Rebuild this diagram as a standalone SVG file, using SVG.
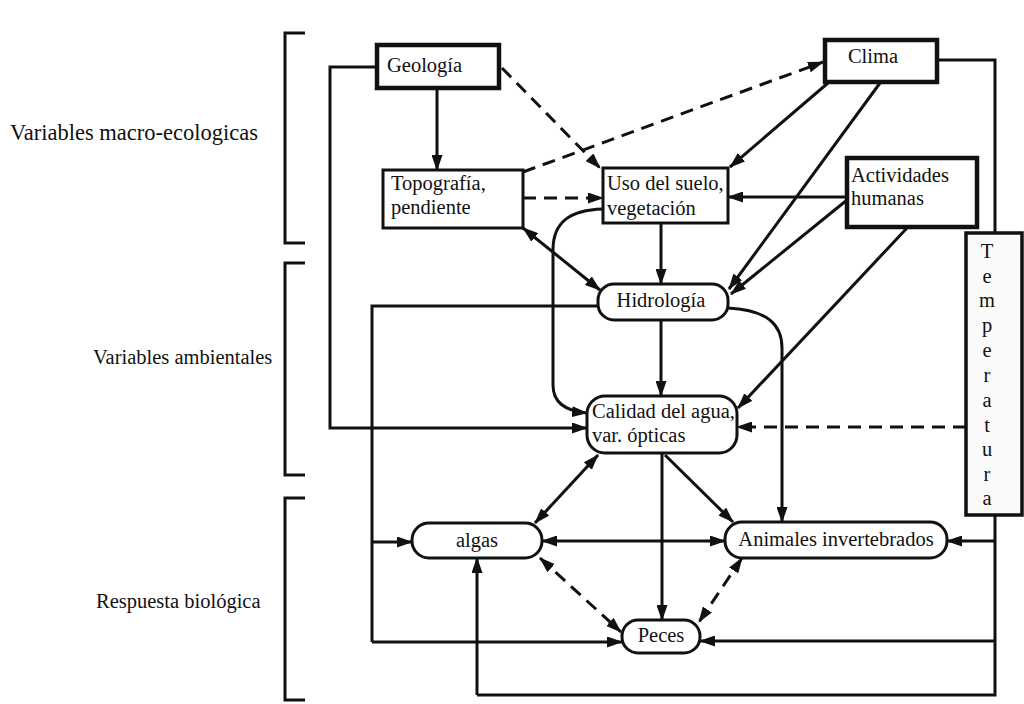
<svg xmlns="http://www.w3.org/2000/svg" width="1024" height="704" viewBox="0 0 1024 704">
<defs>
<marker id="arr" viewBox="0 0 16 11" refX="15" refY="5.5" markerWidth="16" markerHeight="11" markerUnits="userSpaceOnUse" orient="auto-start-reverse">
<path d="M0,0 L16,5.5 L0,11 z" fill="#111"/>
</marker>
</defs>
<style>
text{font-family:"Liberation Serif","Times New Roman",serif;fill:#111;font-size:20.5px}
.box{fill:#fff;stroke:#111;stroke-width:3}
.thick{stroke-width:4.5}
.c{fill:none;stroke:#111;stroke-width:3}
.a{marker-end:url(#arr)}
.d2{marker-start:url(#arr);marker-end:url(#arr)}
.dash{stroke-dasharray:13 8}
.br{fill:none;stroke:#111;stroke-width:3}
</style>
<rect width="1024" height="704" fill="#fff"/>
<g id="labels">
<path class="br" d="M305,33 H285 V243 H305"/>
<path class="br" d="M305,263 H285 V475 H305"/>
<path class="br" d="M305,498 H285 V700 H305"/>
<text x="10" y="140" style="font-size:22.5px">Variables macro-ecologicas</text>
<text x="93" y="364">Variables ambientales</text>
<text x="96" y="608">Respuesta biológica</text>
</g>
<g id="connectors">
<path class="c a" d="M437,88 V170"/>
<path class="c a" d="M377,67 H330 V428 H587"/>
<path class="c a dash" d="M502,68 L600,168"/>
<path class="c a dash" d="M523,172 L823,62"/>
<path class="c a dash" d="M523,198 H603"/>
<path class="c d2" d="M523,228 L600,290"/>
<path class="c a" d="M661,223 V284"/>
<path class="c a" d="M603,209 C570,210 553,222 553,250 V385 Q553,410 587,413"/>
<path class="c a" d="M828,83 L730,167"/>
<path class="c a" d="M880,83 L729,289"/>
<path class="c a" d="M847,197 H728"/>
<path class="c a" d="M847,200 L731,294"/>
<path class="c a" d="M907,228 L738,408"/>
<path class="c" d="M937,60 H995 V233"/>
<path class="c a dash" d="M966,427 H737"/>
<path class="c" d="M995,515 V695 H477"/>
<path class="c a" d="M477,695 V558"/>
<path class="c a" d="M995,541 H947"/>
<path class="c a" d="M995,641 H700"/>
<path class="c" d="M598,306 H372 V642"/>
<path class="c a" d="M372,542 H412"/>
<path class="c a" d="M372,642 H622"/>
<path class="c a" d="M728,308 C768,310 782,325 782,348 V522"/>
<path class="c a" d="M661,320 V396"/>
<path class="c d2" d="M598,455 L535,523"/>
<path class="c a" d="M665,455 L733,522"/>
<path class="c a" d="M662,453 V620"/>
<path class="c d2" d="M542,541 H725"/>
<path class="c d2 dash" d="M540,558 L621,632"/>
<path class="c d2 dash" d="M742,558 L699,622"/>
</g>
<g id="geologia">
<rect class="box thick" x="377" y="45" width="122" height="43"/>
<text x="387" y="72">Geología</text>
</g>
<g id="clima">
<rect class="box thick" x="825" y="40" width="112" height="42"/>
<text x="873" y="63" text-anchor="middle">Clima</text>
</g>
<g id="topografia">
<rect class="box" x="383" y="170" width="140" height="58"/>
<text x="391" y="190">Topografía,</text>
<text x="391" y="214">pendiente</text>
</g>
<g id="uso">
<rect class="box" x="603" y="168" width="125" height="55"/>
<text x="607" y="190">Uso del suelo,</text>
<text x="607" y="215">vegetación</text>
</g>
<g id="actividades">
<rect class="box thick" x="847" y="158" width="130" height="69"/>
<text x="851" y="182">Actividades</text>
<text x="851" y="205">humanas</text>
</g>
<g id="temperatura">
<rect x="966" y="233" width="56" height="282" fill="#fafafa" stroke="#111" stroke-width="3.5"/>
<g text-anchor="middle">
<text x="987" y="258">T</text>
<text x="987" y="283">e</text>
<text x="987" y="307">m</text>
<text x="987" y="332">p</text>
<text x="987" y="357">e</text>
<text x="987" y="382">r</text>
<text x="987" y="407">a</text>
<text x="987" y="432">t</text>
<text x="987" y="456">u</text>
<text x="987" y="481">r</text>
<text x="987" y="505">a</text>
</g>
</g>
<g id="hidrologia">
<rect class="box" x="598" y="284" width="130" height="36" rx="16"/>
<text x="661" y="307" text-anchor="middle">Hidrología</text>
</g>
<g id="calidad">
<rect class="box" x="587" y="396" width="150" height="57" rx="18"/>
<text x="592" y="418">Calidad del agua,</text>
<text x="592" y="442">var. ópticas</text>
</g>
<g id="algas">
<rect class="box" x="412" y="523" width="130" height="35" rx="17"/>
<text x="477" y="547" text-anchor="middle">algas</text>
</g>
<g id="animales">
<rect class="box" x="725" y="522" width="222" height="36" rx="17"/>
<text x="836" y="546" text-anchor="middle">Animales invertebrados</text>
</g>
<g id="peces">
<rect class="box" x="622" y="620" width="78" height="33" rx="16"/>
<text x="661" y="642" text-anchor="middle">Peces</text>
</g>
</svg>
